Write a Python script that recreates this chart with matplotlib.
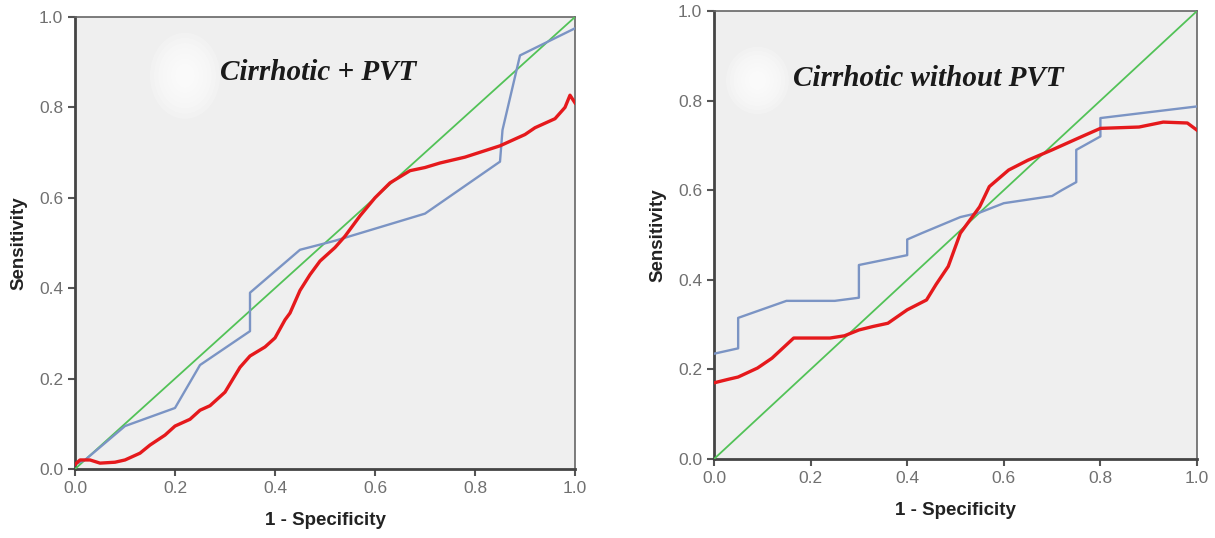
import matplotlib
matplotlib.use("Agg")
from matplotlib import pyplot as plt
from matplotlib.patches import Ellipse

# Left panel: Cirrhotic + PVT
left_blue_x = [0.0, 0.02, 0.10, 0.20, 0.25, 0.35, 0.35, 0.45, 0.52, 0.70, 0.85, 0.855, 0.89, 1.0]
left_blue_y = [0.01, 0.02, 0.095, 0.135, 0.23, 0.305, 0.39, 0.485, 0.505, 0.565, 0.68, 0.75, 0.915, 0.975]

left_red_x = [0.0, 0.01, 0.03, 0.05, 0.08, 0.10, 0.13, 0.15, 0.18, 0.20, 0.23, 0.25, 0.27, 0.28, 0.30,
              0.33, 0.35, 0.38, 0.40, 0.42, 0.43, 0.45, 0.47, 0.49, 0.51, 0.52, 0.54, 0.57, 0.60, 0.63,
              0.67, 0.70, 0.73, 0.78, 0.85, 0.90, 0.92, 0.96, 0.98, 0.99, 1.0]
left_red_y = [0.01, 0.02, 0.02, 0.013, 0.015, 0.02, 0.035, 0.053, 0.075, 0.095, 0.11, 0.13, 0.14, 0.15, 0.17,
              0.225, 0.25, 0.27, 0.29, 0.33, 0.345, 0.395, 0.43, 0.46, 0.48, 0.49, 0.515, 0.56, 0.60, 0.633,
              0.66, 0.667, 0.677, 0.69, 0.715, 0.74, 0.755, 0.775, 0.80, 0.827, 0.81]

# Right panel: Cirrhotic without PVT
right_blue_x = [0.0, 0.05, 0.05, 0.15, 0.25, 0.30, 0.30, 0.40, 0.40, 0.43, 0.51, 0.55, 0.60, 0.70,
                0.72, 0.75, 0.75, 0.80, 0.80, 1.0]
right_blue_y = [0.235, 0.247, 0.315, 0.353, 0.353, 0.36, 0.433, 0.455, 0.49, 0.504, 0.54, 0.55, 0.571,
                0.587, 0.60, 0.618, 0.69, 0.72, 0.761, 0.787]

right_red_x = [0.0, 0.03, 0.05, 0.09, 0.12, 0.14, 0.165, 0.20, 0.24, 0.27, 0.30, 0.33, 0.36, 0.40,
               0.44, 0.46, 0.485, 0.51, 0.55, 0.57, 0.61, 0.65, 0.70, 0.76, 0.80, 0.88, 0.93, 0.98, 1.0]
right_red_y = [0.17, 0.178, 0.183, 0.203, 0.225, 0.245, 0.27, 0.27, 0.27, 0.275, 0.288, 0.296, 0.303, 0.333,
               0.355, 0.39, 0.43, 0.504, 0.563, 0.608, 0.645, 0.667, 0.69, 0.719, 0.738, 0.741, 0.752, 0.75, 0.734]

titles = ["Cirrhotic + PVT", "Cirrhotic without PVT"]
ticks = [0.0, 0.2, 0.4, 0.6, 0.8, 1.0]
tick_labels = ["0.0", "0.2", "0.4", "0.6", "0.8", "1.0"]

BLUE = "#7b94c4"
RED = "#e5191c"
GREEN = "#52c257"

fig = plt.figure(figsize=(12.15, 5.38), dpi=100)
ax1 = fig.add_axes([75 / 1215, 1 - 469 / 538, 500 / 1215, 452 / 538])
ax2 = fig.add_axes([714 / 1215, 1 - 459 / 538, 483 / 1215, 448 / 538])

panels = [
    (ax1, left_blue_x, left_blue_y, left_red_x, left_red_y, titles[0], (0.486, 0.878), (0.22, 0.87, 0.14, 0.19)),
    (ax2, right_blue_x, right_blue_y, right_red_x, right_red_y, titles[1], (0.443, 0.85), (0.09, 0.845, 0.13, 0.15)),
]

for ax, bx, by, rx, ry, title, tpos, blob in panels:
    ax.set_facecolor("#efefef")
    # soft white glare spot
    for k in range(7):
        s = 1 - k * 0.12
        ax.add_patch(Ellipse((blob[0], blob[1]), blob[2] * s, blob[3] * s,
                             facecolor="white", edgecolor="none", alpha=0.22, zorder=1))
    ax.plot([0, 1], [0, 1], color=GREEN, lw=1.3, zorder=3)
    ax.plot(bx, by, color=BLUE, lw=1.7, zorder=4)
    ax.plot(rx, ry, color=RED, lw=2.4, zorder=5)
    ax.set_xlim(0, 1)
    ax.set_ylim(0, 1)
    ax.set_xticks(ticks)
    ax.set_yticks(ticks)
    ax.set_xticklabels(tick_labels, family="Liberation Sans")
    ax.set_yticklabels(tick_labels, family="Liberation Sans")
    ax.tick_params(direction="out", length=5, width=1.5, color="#555555",
                   labelcolor="#707070", labelsize=12.5)
    for sp in ax.spines.values():
        sp.set_color("#666666")
        sp.set_linewidth(1.2)
    ax.spines["left"].set_linewidth(2)
    ax.spines["bottom"].set_linewidth(2)
    ax.spines["left"].set_color("#444444")
    ax.spines["bottom"].set_color("#444444")
    ax.set_xlabel("1 - Specificity", fontsize=13.5, fontweight="bold",
                  family="Liberation Sans", color="#222222", labelpad=12)
    ax.set_ylabel("Sensitivity", fontsize=13.5, fontweight="bold",
                  family="Liberation Sans", color="#222222", labelpad=8)
    ax.text(tpos[0], tpos[1], title, ha="center", va="center", fontsize=21,
            family="Liberation Serif", style="italic", fontweight="bold",
            color="#1a1a1a", zorder=6)

fig.savefig("out.png", dpi=100)
